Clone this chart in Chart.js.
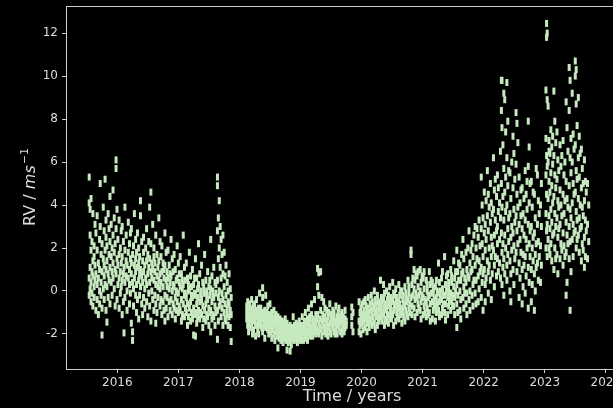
<!DOCTYPE html>
<html>
<head>
<meta charset="utf-8">
<script src="https://cdn.jsdelivr.net/npm/chart.js@4.4.1/dist/chart.umd.min.js"></script>
<style>
    html, body { margin: 0; padding: 0; background: #000; overflow: hidden; }
    /* the axes run past the right edge of the window, as in the original figure */
    #wrap { width: 640px; height: 408px; }
</style>
</head>
<body>
<div id="wrap"><canvas id="rvChart"></canvas></div>
<script>
// RV measurements, grouped by observing season: [time in years, [rv values in m/s]]
const season2015 = [
    [2015.54, [5.3, 4.1, 0.6, -0.2]], [2015.555, [3.8, 2.6, 1.1, 0.1]], [2015.57, [4.3, 1.9, 0.4, -0.5]],
    [2015.585, [2.3, 0.9, -0.1]], [2015.6, [3.6, 1.4, 0.7, -0.7]], [2015.62, [2.1, 0.2, -0.3, 1.6]],
    [2015.635, [3.1, 1.2, 0.5]], [2015.65, [0.8, -0.9, 2.7]], [2015.67, [1.9, 0.3, -0.4, 3.5]],
    [2015.69, [1.3, 0.6, -1.1]], [2015.71, [2.4, 0.0, -0.6, 1.0]], [2015.72, [5.0, 3.0]],
    [2015.735, [1.7, 0.4, -0.2]], [2015.75, [2.2, -2.05, 0.9, -0.8]], [2015.77, [3.9, 1.5, 0.1]],
    [2015.785, [2.8, 0.7, -0.4, 1.2]], [2015.8, [5.2, 1.9, 0.3]], [2015.815, [2.5, 1.0, -0.9, 3.3]],
    [2015.83, [1.4, -1.45, 0.2, 2.1]], [2015.85, [3.6, 0.8, -0.3]], [2015.865, [1.7, 2.9, 0.5]],
    [2015.88, [4.4, 1.1, -0.6, 2.3]], [2015.9, [0.4, 1.6, 3.1]], [2015.915, [2.0, -0.2, 0.9]],
    [2015.93, [4.7, 1.3, 0.6, 2.6]], [2015.95, [3.4, 0.1, 1.8]], [2015.965, [2.2, -0.7, 1.0]],
    [2015.98, [6.1, 5.7, 2.9, 0.8]], [2015.995, [1.5, 3.8, -0.4]], [2016.01, [2.4, 0.3, 1.2]],
    [2016.03, [3.3, 1.7, -0.8, 0.6]], [2016.05, [2.0, 0.9, -0.1]], [2016.065, [2.8, 1.3, 0.2]],
    [2016.08, [1.6, -1.1, 0.5, 3.0]], [2016.1, [2.3, 0.8, -0.5]], [2016.11, [-1.95, 1.1]],
    [2016.125, [3.9, 1.9, 0.4, -0.3]], [2016.145, [2.6, 0.7, 1.4]], [2016.16, [1.2, -0.9, 0.0]],
    [2016.18, [3.2, 1.8, 0.6]], [2016.2, [2.2, 0.3, -0.6, 1.0]], [2016.215, [1.5, 2.7, -0.1]],
    [2016.23, [2.9, 0.8, -1.5, 1.3]], [2016.25, [-1.9, -2.3, 0.4, 1.7]], [2016.265, [2.1, 0.1, -0.7]],
    [2016.28, [3.6, 1.2, 0.6]], [2016.3, [2.4, -0.2, 0.9, 1.5]], [2016.315, [1.8, 0.3, -1.0]],
    [2016.33, [2.7, 1.1, -0.4]], [2016.35, [1.3, 0.5, -1.3, 2.0]], [2016.365, [0.8, 1.6, -0.2]],
    [2016.38, [4.2, 3.5, 1.0, 0.2]], [2016.4, [2.3, 0.7, -0.6]], [2016.415, [1.4, -1.1, 0.4]],
    [2016.43, [2.5, 0.9, -0.3, 1.8]], [2016.45, [1.2, 0.1, -0.8]], [2016.465, [2.0, 0.6]],
    [2016.48, [2.9, 1.4, -0.5, 0.3]], [2016.5, [1.7, 0.8, -1.2]], [2016.515, [1.1, -0.1, 2.3]],
    [2016.53, [3.9, 1.5, 0.4, -0.7]], [2016.55, [4.6, 2.2, 0.9, -1.4]], [2016.565, [1.3, 0.0, 0.6]],
    [2016.58, [3.1, 1.0, -0.4]], [2016.6, [2.0, 0.5, -0.9, 1.6]], [2016.615, [0.9, -0.2, 1.3]],
    [2016.63, [2.6, 0.3, -0.6, -1.5]], [2016.65, [1.7, 0.7, -1.0]], [2016.665, [1.1, -0.3, 0.2]],
    [2016.68, [3.4, 1.4, 0.5]], [2016.7, [2.3, 0.1, -0.7, 0.8]], [2016.715, [1.6, -0.4, 0.4]],
    [2016.73, [2.1, 0.9, -1.1]], [2016.75, [1.3, 0.2, -0.5]], [2016.765, [0.6, -0.9, 1.0]],
    [2016.78, [2.7, 1.2, -0.2, -1.4]], [2016.8, [1.8, 0.5, -0.8]], [2016.815, [0.9, -0.3, 0.2]],
    [2016.83, [1.9, 0.6, -1.2]], [2016.85, [1.2, -0.5, 0.1]], [2016.865, [0.4, -0.9, 0.8]],
    [2016.88, [2.4, 0.7, -0.4]], [2016.9, [1.5, 0.0, -1.1]], [2016.915, [0.9, -0.6, 0.3]],
    [2016.93, [1.7, 0.2, -0.8]], [2016.95, [1.0, -0.3, -1.3]], [2016.965, [0.5, -0.9, 0.0]],
    [2016.98, [2.1, 0.6, -0.5]], [2017.0, [1.3, -0.1, -1.0]], [2017.015, [0.4, -0.7, 0.8]],
    [2017.03, [1.6, 0.2, -0.9]], [2017.05, [0.8, -0.4, -1.4]], [2017.065, [0.1, -1.1, 0.5]],
    [2017.08, [2.6, 0.3, -0.6]], [2017.1, [1.1, -0.2, -1.2]], [2017.115, [0.5, -0.8, -0.1]],
    [2017.13, [1.3, -0.3, -1.0]], [2017.15, [0.6, -0.6, -1.6]], [2017.165, [0.0, -1.2, 0.3]],
    [2017.18, [1.8, 0.1, -0.8]], [2017.2, [0.7, -0.5, -1.4]], [2017.215, [0.2, -1.0, -0.2]],
    [2017.23, [1.0, -0.3, -1.3]], [2017.25, [0.3, -0.8, -2.05]], [2017.265, [-0.1, -1.1, 0.6]],
    [2017.28, [1.5, -0.2, -1.0, -2.1]], [2017.3, [0.6, -0.6, -1.5]], [2017.315, [0.1, -1.2, -0.3]],
    [2017.33, [2.2, 0.3, -0.9]], [2017.35, [0.8, -0.5, -1.3]], [2017.365, [0.0, -1.0, -0.2]],
    [2017.38, [1.2, -0.4, -1.1]], [2017.4, [0.4, -0.7, -1.7]], [2017.415, [-0.1, -1.3, 0.2]],
    [2017.43, [1.7, -0.1, -0.9]], [2017.45, [0.5, -0.6, -1.4]], [2017.465, [0.0, -1.1, -0.3]],
    [2017.48, [0.9, -0.4, -1.2]], [2017.5, [0.2, -0.8, -1.6]], [2017.515, [-0.2, -1.0, 0.5]],
    [2017.53, [2.4, 0.1, -0.9, -1.9]], [2017.55, [0.7, -0.5, -1.3]], [2017.565, [0.0, -1.1, -0.3]],
    [2017.58, [1.1, -0.3, -1.2]], [2017.6, [0.4, -0.7, -1.6]], [2017.615, [-0.1, -1.0, 0.3]],
    [2017.64, [5.3, 4.9, 2.8, 0.5, -0.9, -2.25]], [2017.655, [3.4, 1.5, -0.3, -1.4]], [2017.67, [4.2, 2.0, 0.0, -0.7]],
    [2017.685, [3.0, 1.1, -0.5]], [2017.7, [2.4, 0.6, -1.2]], [2017.715, [1.7, -0.1, -0.8]],
    [2017.73, [2.6, 0.8, -0.4, -1.6]], [2017.75, [1.8, 0.2, -1.0]], [2017.765, [0.7, -0.6, -1.3]],
    [2017.78, [1.2, -0.2, -1.4]], [2017.8, [0.4, -0.8, -1.1]], [2017.815, [0.0, -0.5, -1.6]],
    [2017.83, [0.8, -0.6, -1.2]], [2017.85, [0.1, -0.9, -1.7]], [2017.865, [-0.3, -1.1, -2.35]]
];

const season2018 = [
    [2018.12, [-0.7, -1.3, -1.0]], [2018.135, [-0.5, -1.6, -1.1]], [2018.15, [-0.9, -1.4, -1.9]],
    [2018.165, [-0.6, -1.2]], [2018.18, [-1.0, -1.7, -0.8, -1.3]], [2018.2, [-0.4, -1.5, -1.1]],
    [2018.215, [-1.2, -2.0, -0.9]], [2018.23, [-0.7, -1.4, -1.8]], [2018.25, [-1.0, -1.3, -0.6]],
    [2018.265, [-1.6, -1.1, -2.1]], [2018.28, [-0.4, -1.2, -0.9]], [2018.3, [-1.5, -1.0, -1.8]],
    [2018.315, [-0.8, -1.3, -2.0]], [2018.33, [-0.1, -1.1, -1.6]], [2018.35, [-0.8, -1.4, -1.2]],
    [2018.365, [-1.7, -1.0]], [2018.38, [0.15, -0.3, -1.3, -1.9]], [2018.4, [-1.0, -1.6, -1.2]],
    [2018.415, [-1.4, -2.2, -0.9]], [2018.43, [-0.2, -1.2, -1.7]], [2018.45, [-1.0, -1.5, -1.3]],
    [2018.465, [-1.8, -1.1, -0.7]], [2018.48, [-1.3, -1.6, -2.0]], [2018.5, [-0.6, -1.4, -1.1]],
    [2018.515, [-1.7, -1.2, -1.9]], [2018.53, [-1.0, -1.5, -2.2]], [2018.55, [-1.3, -1.8, -1.6]],
    [2018.565, [-0.9, -2.0, -1.4]], [2018.58, [-1.5, -1.2, -2.3]], [2018.6, [-1.7, -1.9, -1.1]],
    [2018.615, [-1.4, -2.1, -1.8]], [2018.63, [-1.2, -1.6, -2.65]], [2018.65, [-1.9, -1.5, -2.2]],
    [2018.665, [-1.7, -2.0, -1.3]], [2018.68, [-1.6, -2.3, -1.9]], [2018.7, [-1.4, -1.8, -2.1]],
    [2018.715, [-2.0, -1.7, -2.4]], [2018.73, [-1.5, -1.9, -2.2]], [2018.75, [-1.8, -2.1, -1.3]],
    [2018.765, [-2.3, -1.6, -2.0]], [2018.78, [-1.9, -2.75, -1.5]], [2018.8, [-2.2, -1.7, -2.4]],
    [2018.815, [-2.0, -1.8]], [2018.83, [-1.6, -2.3, -2.8]], [2018.85, [-1.9, -2.1, -2.5]],
    [2018.865, [-2.2, -1.7]], [2018.88, [-1.2, -2.0, -1.8]], [2018.9, [-2.3, -1.6, -2.1]],
    [2018.915, [-1.9, -2.2]], [2018.93, [-1.5, -2.0, -1.7]], [2018.95, [-2.2, -1.8, -2.4]],
    [2018.965, [-1.9, -1.6]], [2018.98, [-1.4, -2.1, -1.8]], [2019.0, [-2.3, -1.9, -1.6]],
    [2019.015, [-2.0, -2.2]], [2019.03, [-1.2, -1.8, -2.1]], [2019.05, [-1.6, -2.3, -1.9]],
    [2019.065, [-1.7, -1.4]], [2019.08, [-1.0, -1.9, -2.2]], [2019.1, [-1.5, -1.7, -2.0]],
    [2019.115, [-1.3, -2.3]], [2019.13, [-0.8, -1.6, -1.9]], [2019.15, [-1.4, -2.0, -1.2]],
    [2019.165, [-1.7, -2.1]], [2019.18, [-1.1, -1.8, -0.6]], [2019.2, [-1.5, -2.1, -1.3]],
    [2019.215, [-1.9, -1.6]], [2019.23, [-0.4, -1.7, -1.4]], [2019.25, [-1.1, -2.0, -1.5]],
    [2019.265, [-1.8, -1.3]], [2019.28, [1.05, 0.2, -1.1, -1.9]], [2019.3, [0.85, -0.2, -1.5, -2.0]],
    [2019.315, [-1.3, -1.7]], [2019.33, [0.9, -0.9, -1.8]], [2019.35, [-0.3, -1.4, -2.1]],
    [2019.365, [-1.1, -1.6]], [2019.38, [-0.5, -1.3, -1.9]], [2019.4, [-0.8, -1.7, -1.2]],
    [2019.415, [-1.5, -2.0]], [2019.43, [-0.9, -1.4, -1.8]], [2019.45, [-1.2, -2.1, -1.6]],
    [2019.465, [-1.0, -1.7]], [2019.48, [-0.6, -1.5, -1.9]], [2019.5, [-1.1, -1.3, -2.0]],
    [2019.515, [-1.6, -1.2]], [2019.53, [-0.9, -1.7, -1.4]], [2019.55, [-1.3, -1.9, -1.0]],
    [2019.565, [-1.5, -2.0]], [2019.58, [-0.7, -1.4, -1.8]], [2019.6, [-1.2, -1.6, -2.0]],
    [2019.615, [-1.0, -1.5]], [2019.63, [-0.8, -1.7, -1.3]], [2019.65, [-1.2, -1.9, -1.5]],
    [2019.665, [-1.4, -1.1]], [2019.68, [-1.0, -1.8, -2.0]], [2019.7, [-1.3, -1.6, -1.2]],
    [2019.715, [-1.9, -1.5]], [2019.73, [-0.9, -1.7, -1.3]], [2019.75, [-1.4, -1.6]]
];

const season2020 = [
    [2019.84, [-0.75, -1.6, -1.2]], [2019.86, [-1.9, -1.0]], [2019.96, [-0.5, -1.4, -1.9]],
    [2019.975, [-1.0, -1.6]], [2019.99, [-0.8, -1.3, -2.0]], [2020.01, [-0.6, -1.5, -1.1]],
    [2020.025, [-1.2, -1.8]], [2020.04, [-0.9, -1.4, -0.5]], [2020.06, [-1.1, -1.7, -0.4]],
    [2020.075, [-0.7, -1.3]], [2020.09, [-1.0, -1.9, -1.5]], [2020.11, [-0.3, -1.2, -0.8]],
    [2020.125, [-1.5, -1.0, -1.7]], [2020.14, [-0.6, -1.3]], [2020.16, [-0.2, -0.9, -1.4]],
    [2020.175, [-1.1, -0.5, -1.6]], [2020.19, [-0.8, -1.2]], [2020.21, [0.0, -0.7, -1.5]],
    [2020.225, [-0.4, -1.0, -1.8]], [2020.24, [-1.2, -0.6]], [2020.26, [-0.2, -0.9, -1.6]],
    [2020.275, [-0.5, -1.3, -1.0]], [2020.29, [-0.8, -1.4]], [2020.31, [0.5, -0.6, -1.2]],
    [2020.325, [-0.3, -1.0, -0.8]], [2020.34, [-1.4, -0.5]], [2020.36, [0.3, -0.4, -1.1]],
    [2020.375, [-0.1, -0.8, -1.6]], [2020.39, [-0.6, -1.3]], [2020.41, [0.0, -0.9, -1.4]],
    [2020.425, [-0.4, -1.1, -0.7]], [2020.44, [-0.2, -1.5]], [2020.46, [0.2, -0.6, -1.2]],
    [2020.475, [-0.3, -1.0, -0.8]], [2020.49, [-0.5, -1.3]], [2020.51, [0.4, -0.4, -1.1]],
    [2020.525, [-0.1, -0.9, -1.6]], [2020.54, [-0.6, -0.2]], [2020.56, [0.1, -0.7, -1.4]],
    [2020.575, [-0.3, -1.0, -0.5]], [2020.59, [-0.8, -1.2]], [2020.61, [0.3, -0.5, -1.3]],
    [2020.625, [-0.2, -0.9, -0.6]], [2020.64, [-1.1, 0.0]], [2020.66, [0.0, -0.8, -1.5]],
    [2020.675, [-0.4, -1.0, -0.2]], [2020.69, [-0.7, -1.2]], [2020.71, [0.2, -0.6, -1.4]],
    [2020.725, [-0.3, -0.9, -0.1]], [2020.74, [-0.5, -1.1]], [2020.76, [0.5, -0.4, -1.2]],
    [2020.775, [-0.1, -0.8, 0.2]], [2020.79, [-0.6, -1.0]], [2020.81, [1.9, 1.7, -0.3]],
    [2020.825, [0.3, -0.7, -1.1]], [2020.84, [0.6, -0.2]], [2020.86, [1.0, 0.1, -0.8]],
    [2020.875, [0.5, -0.4, -1.2]], [2020.89, [-0.1, 0.8]], [2020.91, [0.7, -0.3, -1.0]],
    [2020.925, [0.2, -0.6, 0.9]], [2020.94, [-0.2, -0.8]], [2020.96, [1.0, 0.0, -0.9]],
    [2020.975, [0.4, -0.5, -1.3]], [2020.99, [0.7, -0.2]], [2021.01, [0.6, -0.3, -1.1]],
    [2021.025, [0.1, -0.7, 0.9]], [2021.04, [-0.4, -1.0]], [2021.06, [0.5, -0.5, -1.2]],
    [2021.075, [0.0, -0.8, 0.3]], [2021.09, [-0.3, -1.1]], [2021.11, [0.9, -0.2, -1.0]],
    [2021.125, [0.3, -0.6, -1.4]], [2021.14, [-0.1, 0.5]], [2021.16, [0.4, -0.5, -1.3]],
    [2021.175, [-0.1, -0.9, 0.1]], [2021.19, [-0.4, -0.7]], [2021.21, [0.2, -0.7, -1.4]],
    [2021.225, [-0.3, -1.0, 0.5]], [2021.24, [-0.6, 0.0]], [2021.26, [1.3, -0.1, -0.9]],
    [2021.275, [0.4, -0.5, -1.2]], [2021.29, [0.0, -0.3]], [2021.31, [0.6, -0.4, -1.1]],
    [2021.325, [0.1, -0.8, 0.9]], [2021.34, [-0.2, -0.6]], [2021.36, [1.6, -0.2, -1.0]],
    [2021.375, [0.3, -0.6, -1.35]], [2021.39, [0.0, 0.7]], [2021.41, [0.8, -0.3, -1.1]],
    [2021.425, [0.1, -0.7, 0.4]], [2021.44, [-0.4, -0.1]], [2021.46, [1.0, -0.1, -0.9]],
    [2021.475, [0.4, -0.5, 0.7]], [2021.49, [-0.2, -0.7]], [2021.51, [1.4, 0.2, -0.7]],
    [2021.525, [0.6, -0.3, -1.1]], [2021.54, [0.0, 0.9]], [2021.56, [1.9, 0.3, -0.6, -1.7]],
    [2021.575, [0.9, -0.2, -1.0]], [2021.59, [0.5, 1.3]], [2021.61, [1.2, 0.0, -0.9]],
    [2021.625, [0.5, -0.4, -1.3]], [2021.64, [0.8, 1.7]], [2021.66, [2.4, 0.9, -0.3]],
    [2021.675, [1.5, 0.2, -0.8]], [2021.69, [0.6, -0.1]], [2021.71, [1.8, 0.4, -0.6]],
    [2021.725, [1.0, -0.1, -1.1]], [2021.74, [2.0, 0.7]], [2021.76, [2.8, 0.6, -0.4]],
    [2021.775, [1.3, 0.0, -0.9]], [2021.79, [1.9, 0.9]], [2021.81, [2.2, 1.0, -0.2]],
    [2021.825, [1.6, 0.3, -0.7]], [2021.84, [2.6, 0.5]], [2021.86, [3.0, 1.2, -0.1]],
    [2021.875, [2.0, 0.5, -0.6]], [2021.89, [1.5, 2.9]], [2021.91, [2.5, 0.7, -0.5]],
    [2021.925, [1.4, 0.1, 3.3]], [2021.94, [2.1, 0.9]]
];

const season2022 = [
    [2021.96, [5.3, 2.9, 1.1, -0.3]], [2021.975, [4.0, 2.2, 0.4]], [2021.99, [3.4, 1.6, -0.9, 0.8]],
    [2022.01, [4.6, 2.7, 1.0]], [2022.025, [3.1, 1.9, -0.5, 0.3]], [2022.04, [2.4, 0.6, 4.2]],
    [2022.06, [5.6, 3.5, 1.4]], [2022.075, [2.8, 0.9, -0.1, 4.5]], [2022.09, [3.9, 2.0, 1.2]],
    [2022.11, [5.0, 3.2, 0.5]], [2022.125, [2.5, 1.6, -0.4, 4.1]], [2022.14, [3.6, 2.1, 0.8]],
    [2022.16, [6.2, 3.8, 1.9]], [2022.175, [4.7, 2.6, 0.2, 1.2]], [2022.19, [3.3, 5.2, 1.6]],
    [2022.21, [4.4, 2.8, 0.7]], [2022.225, [5.4, 3.0, 1.5, 2.2]], [2022.24, [3.7, 0.9, 4.8]],
    [2022.26, [4.1, 2.4, 1.3]], [2022.275, [6.5, 3.4, 0.6]], [2022.29, [9.8, 8.4, 5.0, 2.7]],
    [2022.3, [9.8, 7.6, 3.9, 1.8, 0.3]], [2022.315, [6.8, 4.4, 2.2, 1.1]], [2022.33, [9.2, 5.7, 3.3, 1.5, -0.2]],
    [2022.345, [8.9, 4.6, 2.6, 0.8]], [2022.36, [7.4, 3.7, 2.0, 5.3]], [2022.38, [9.7, 6.2, 4.0, 1.2, 0.5]],
    [2022.395, [7.9, 4.9, 2.9, 1.7]], [2022.41, [3.4, 5.6, 2.3]], [2022.43, [5.5, 3.6, 1.4, 0.0]],
    [2022.445, [4.3, 2.5, 0.8, -0.5]], [2022.46, [3.0, 1.9, 6.0]], [2022.48, [7.2, 4.8, 2.7, 1.0]],
    [2022.495, [6.4, 3.8, 2.1, 0.3]], [2022.51, [5.2, 3.2, 1.5]], [2022.53, [8.3, 5.9, 3.5, 1.8]],
    [2022.545, [7.8, 4.5, 2.8, 0.9]], [2022.56, [6.9, 3.9, 2.2]], [2022.58, [5.3, 3.1, 1.3, -0.3]],
    [2022.595, [4.1, 2.4, 0.6]], [2022.61, [3.5, 1.8, 4.7]], [2022.63, [4.8, 2.9, 1.0, -0.6]],
    [2022.645, [3.6, 1.7, 0.2]], [2022.66, [2.6, 4.3, 1.2]], [2022.68, [5.6, 3.3, 1.6, -0.1]],
    [2022.695, [4.5, 2.4, 0.7]], [2022.71, [3.8, 2.0, 5.1]], [2022.73, [7.9, 5.8, 3.1, 1.1, -0.8]],
    [2022.745, [6.7, 4.1, 2.2, 0.4]], [2022.76, [5.0, 2.8, 1.6]], [2022.78, [5.1, 3.0, 1.0, -0.5]],
    [2022.795, [3.9, 2.0, 0.3]], [2022.81, [4.6, 2.5, 1.4]], [2022.83, [4.5, 2.7, 0.8, -0.9]],
    [2022.845, [3.4, 1.7, 0.0]], [2022.86, [5.7, 2.2, 1.1]], [2022.88, [5.4, 3.1, 1.3]],
    [2022.895, [4.2, 2.3, 0.5]], [2022.91, [3.6, 1.6]], [2022.93, [4.0, 2.1, 0.4]],
    [2022.945, [3.0, 1.2, 5.0]]
];

const season2023 = [
    [2023.02, [9.35, 7.1, 5.4, 3.6, 2.0]], [2023.03, [12.45, 11.8, 6.3, 4.5, 2.8]], [2023.04, [12.0, 8.9, 5.8, 3.1, 1.6]],
    [2023.055, [8.6, 6.0, 4.3, 2.4]], [2023.07, [7.0, 5.1, 3.5, 2.0, 6.5]], [2023.085, [6.4, 4.6, 2.9, 1.7]],
    [2023.1, [7.5, 5.5, 3.8, 2.2]], [2023.115, [6.7, 4.9, 3.2, 1.4]], [2023.13, [5.9, 4.1, 2.6, 7.2]],
    [2023.15, [9.3, 6.3, 4.4, 2.7, 1.0]], [2023.165, [7.9, 5.4, 3.6, 2.0]], [2023.18, [6.9, 4.8, 3.0, 1.5]],
    [2023.2, [7.4, 5.2, 3.4, 1.7]], [2023.215, [6.1, 4.2, 2.5, 0.8]], [2023.23, [5.6, 3.9, 2.9]],
    [2023.25, [6.8, 4.7, 3.1, 1.5]], [2023.265, [5.8, 4.0, 2.2]], [2023.28, [6.3, 3.5, 1.9]],
    [2023.3, [7.0, 4.5, 2.7, 1.2]], [2023.315, [5.4, 3.6, 2.1]], [2023.33, [6.0, 4.2, 1.6]],
    [2023.35, [8.8, 5.1, 3.2, 1.8, -0.2]], [2023.365, [7.6, 4.3, 2.6, 0.4]], [2023.38, [6.5, 3.9, 2.2]],
    [2023.4, [10.4, 8.4, 4.9, 3.0, 1.5]], [2023.415, [9.8, 6.2, 3.8, 2.3, -0.9]], [2023.43, [7.1, 5.5, 3.4, 0.9]],
    [2023.45, [9.2, 6.0, 4.1, 2.4]], [2023.465, [7.3, 5.0, 3.1, 1.6]], [2023.48, [6.6, 4.5, 2.7]],
    [2023.5, [10.7, 10.0, 6.8, 4.6, 2.8]], [2023.515, [10.3, 8.7, 5.6, 3.7, 2.0]], [2023.53, [7.7, 5.2, 3.3, 2.4]],
    [2023.55, [9.0, 6.2, 4.3, 2.6]], [2023.565, [7.2, 5.3, 3.4, 1.8]], [2023.58, [6.4, 4.0, 2.9]],
    [2023.6, [6.6, 4.8, 3.0, 1.4]], [2023.615, [5.7, 3.9, 2.2]], [2023.63, [5.0, 3.5, 1.9]],
    [2023.65, [6.1, 4.2, 2.5, 1.1]], [2023.665, [5.1, 3.3, 1.6]], [2023.68, [4.6, 2.8]],
    [2023.7, [5.0, 3.1, 1.5]], [2023.72, [4.0, 2.3]]
];

const yearTicks = [2016, 2017, 2018, 2019, 2020, 2021, 2022, 2023, 2024];
const rvTicks = [-2, 0, 2, 4, 6, 8, 10, 12];

// axis limits (x runs past the visible window)
const X_MIN = 2015.16, X_MAX = 2024.56;
const Y_MIN = -3.63, Y_MAX = 13.26;

const POINT_COLOR = '#c7e9c0';
const AXIS_COLOR = '#cccccc';
const TEXT_COLOR = '#dddddd';
const FONT = 'DejaVu Sans';

// flatten seasons into scatter points
const points = [];
[season2015, season2018, season2020, season2022, season2023].forEach(function(season) {
    season.forEach(function(night) {
        night[1].forEach(function(rv) {
            points.push({ x: night[0], y: rv });
        });
    });
});

// top spine + axis titles (y title needs italic and superscript)
const framePlugin = {
    id: 'frame',
    afterDraw: function(chart) {
        const ctx = chart.ctx;
        const area = chart.chartArea;
        ctx.save();
        ctx.strokeStyle = AXIS_COLOR;
        ctx.lineWidth = 1;
        ctx.beginPath();
        ctx.moveTo(area.left, area.top + 0.5);
        ctx.lineTo(area.right, area.top + 0.5);
        ctx.stroke();

        ctx.fillStyle = TEXT_COLOR;
        ctx.textBaseline = 'middle';
        ctx.textAlign = 'center';
        ctx.font = '16px "' + FONT + '"';
        ctx.fillText('Time / years', 352, 397);

        // y label: RV / ms^-1
        ctx.translate(29, (area.top + area.bottom) / 2);
        ctx.rotate(-Math.PI / 2);
        ctx.textAlign = 'left';
        ctx.textBaseline = 'alphabetic';
        const fNorm = '16px "' + FONT + '"';
        const fItal = 'italic 16px "' + FONT + '"';
        const fSup = '11px "' + FONT + '"';
        ctx.font = fNorm; const w1 = ctx.measureText('RV / ').width;
        ctx.font = fItal; const w2 = ctx.measureText('ms').width;
        ctx.font = fSup; const w3 = ctx.measureText('\u22121').width;
        let x = -(w1 + w2 + w3) / 2;
        const base = 6;
        ctx.font = fNorm; ctx.fillText('RV / ', x, base); x += w1;
        ctx.font = fItal; ctx.fillText('ms', x, base); x += w2 + 1;
        ctx.font = fSup; ctx.fillText('\u22121', x, base - 7);
        ctx.restore();
    }
};

const ctx = document.getElementById('rvChart').getContext('2d');
const rvChart = new Chart(ctx, {
    type: 'scatter',
    data: {
        datasets: [{
            data: points,
            pointStyle: 'line',
            rotation: 90,
            pointRadius: 3.5,
            pointBorderWidth: 3,
            borderColor: POINT_COLOR,
            backgroundColor: POINT_COLOR
        }]
    },
    plugins: [framePlugin],
    options: {
        responsive: true,
        maintainAspectRatio: false,
        animation: false,
        events: [],
        layout: { autoPadding: false, padding: { top: 6, left: 0, right: 0, bottom: 0 } },
        plugins: {
            legend: { display: false },
            tooltip: { enabled: false }
        },
        scales: {
            x: {
                type: 'linear',
                position: 'bottom',
                min: X_MIN,
                max: X_MAX,
                afterBuildTicks: function(axis) {
                    axis.ticks = yearTicks.map(function(v) { return { value: v }; });
                },
                afterFit: function(axis) {
                    axis.height = 39;
                    axis.paddingLeft = 0;
                    axis.paddingRight = 0;
                },
                ticks: {
                    color: TEXT_COLOR,
                    font: { family: FONT, size: 12 },
                    padding: 3,
                    maxRotation: 0,
                    autoSkip: false,
                    callback: function(v) { return String(v); }
                },
                grid: {
                    display: true,
                    drawOnChartArea: false,
                    drawTicks: true,
                    tickLength: 4,
                    color: AXIS_COLOR
                },
                border: { display: true, color: AXIS_COLOR, width: 1 }
            },
            y: {
                type: 'linear',
                position: 'left',
                min: Y_MIN,
                max: Y_MAX,
                afterBuildTicks: function(axis) {
                    axis.ticks = rvTicks.map(function(v) { return { value: v }; });
                },
                afterFit: function(axis) {
                    axis.width = 66;
                    axis.paddingTop = 0;
                    axis.paddingBottom = 0;
                },
                ticks: {
                    color: TEXT_COLOR,
                    font: { family: FONT, size: 12 },
                    padding: 4,
                    callback: function(v) { return String(v); }
                },
                grid: {
                    display: true,
                    drawOnChartArea: false,
                    drawTicks: true,
                    tickLength: 4,
                    color: AXIS_COLOR
                },
                border: { display: true, color: AXIS_COLOR, width: 1 }
            }
        }
    }
});
</script>
</body>
</html>
